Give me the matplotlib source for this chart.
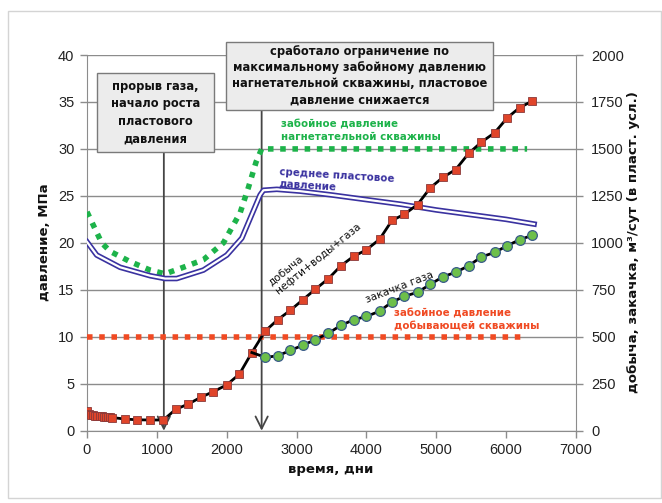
import matplotlib
matplotlib.use("Agg")
import matplotlib.pyplot as plt
from matplotlib.patches import Rectangle

# ---- data ----
# injection well bottom-hole pressure, MPa (left axis)
inj_bhp_days = [0, 210, 330, 616, 903, 1117, 1380, 1666, 1953, 2192, 2311, 2420, 2500, 6300]
inj_bhp_mpa = [23.3, 20.0, 19.1, 18.0, 17.1, 16.7, 17.4, 18.2, 20.0, 23.2, 25.9, 28.6, 30.0, 30.0]

# average reservoir pressure, MPa (left axis)
res_p_days = [0, 139, 473, 903, 1117, 1285, 1666, 2001, 2216, 2478, 2526, 2717, 3052,
              3500, 4000, 4500, 5000, 5500, 6000, 6400]
res_p_mpa = [20.1, 18.7, 17.4, 16.5, 16.2, 16.2, 17.1, 18.7, 20.5, 25.1, 25.6, 25.7, 25.5,
             25.1, 24.6, 24.1, 23.5, 23.0, 22.5, 22.0]

# production well bottom-hole pressure, MPa (left axis)
prod_bhp_days = [0, 6300]
prod_bhp_mpa = [10.0, 10.0]

# production oil+water+gas, m3/day (right axis)
prod_days = [0, 30, 60, 90, 120, 150, 180, 210, 240, 270, 300, 330, 360,
             545, 720, 903, 1093, 1271, 1451, 1629, 1810, 2001, 2181, 2360,
             2550, 2727, 2908, 3089, 3266, 3457, 3635, 3815, 3997, 4188, 4365,
             4542, 4732, 4914, 5096, 5277, 5463, 5645, 5835, 6017, 6193, 6375]
prod_rate = [103, 88, 85, 82, 80, 78, 77, 76, 75, 74, 73, 72, 70,
             62, 58, 57, 57, 114, 142, 178, 208, 244, 301, 416,
             530, 590, 640, 697, 752, 810, 878, 928, 962, 1019, 1119,
             1152, 1204, 1293, 1349, 1390, 1476, 1536, 1586, 1666, 1720, 1755]

# gas injection, m3/day (right axis)
gas_days = [2360, 2550, 2727, 2908, 3089, 3266, 3457, 3635, 3815, 3997, 4188, 4365,
            4542, 4732, 4914, 5096, 5277, 5463, 5645, 5835, 6017, 6193, 6375]
gas_rate = [416, 391, 398, 427, 455, 484, 519, 561, 590, 608, 636, 685,
            715, 737, 779, 820, 843, 878, 925, 949, 985, 1017, 1040]

event_days = [1100, 2500]
box1_text = "прорыв газа,\nначало роста\nпластового\nдавления"
box2_text = ("сработало ограничение по\nмаксимальному забойному давлению\n"
             "нагнетательной скважины, пластовое\nдавление снижается")

# ---- figure ----
W, H = 662, 503
fig = plt.figure(figsize=(W / 100, H / 100), dpi=100)
fig.patch.set_facecolor("white")
fig.patches.append(Rectangle((8 / W, 5 / H), 653 / W, 487 / H, transform=fig.transFigure,
                             fill=False, edgecolor="#d4d4d4", lw=1.0))

ax = fig.add_axes([87 / W, 1 - 430.7 / H, (576 - 87) / W, (430.7 - 55) / H])
ax2 = ax.twinx()

ax.set_xlim(0, 7000)
ax.set_ylim(0, 40)
ax2.set_ylim(0, 2000)
ax.set_xticks(range(0, 7001, 1000))
ax.set_yticks(range(0, 41, 5))
ax2.set_yticks(range(0, 2001, 250))

gridc = "#8c8c8c"
ax.grid(axis="y", color=gridc, lw=1.0)
ax.set_axisbelow(True)
for a in (ax, ax2):
    for s in a.spines.values():
        s.set_visible(False)
ax.spines["left"].set_visible(True)
ax.spines["left"].set_color(gridc)
ax.spines["bottom"].set_visible(True)
ax.spines["bottom"].set_color(gridc)
ax2.spines["right"].set_visible(True)
ax2.spines["right"].set_color(gridc)

for a in (ax, ax2):
    a.tick_params(axis="both", color=gridc, length=5, width=1, direction="out",
                  labelsize=10.5, labelcolor="#222222")
    for lab in a.get_xticklabels() + a.get_yticklabels():
        lab.set_fontfamily("Liberation Sans")
ax.tick_params(axis="y", pad=4)
ax2.tick_params(axis="y", pad=6)
ax.tick_params(axis="x", pad=4)

# left axis series
dotted = (0, (1.0, 1.2))
ax.plot(inj_bhp_days, inj_bhp_mpa, color="#1db34a", lw=4.0, linestyle=dotted,
        dash_capstyle="butt", zorder=3)
ax.plot(prod_bhp_days, prod_bhp_mpa, color="#f04a23", lw=4.0, linestyle=dotted,
        dash_capstyle="butt", zorder=3)
ax.plot(res_p_days, res_p_mpa, color="#3a32a0", lw=4.0, zorder=4, solid_joinstyle="round")
ax.plot(res_p_days, res_p_mpa, color="white", lw=1.6, zorder=4, solid_joinstyle="round")

# right axis series
ax2.plot(prod_days, prod_rate, color="black", lw=2, marker="s", markersize=6,
         markerfacecolor="#e0452a", markeredgecolor="#8a3a3a", markeredgewidth=0.6, zorder=5)
ax2.plot(gas_days, gas_rate, color="black", lw=2, zorder=5)
ax2.plot(gas_days[1:], gas_rate[1:], linestyle="none", marker="o", markersize=7,
         markerfacecolor="#6dbf4a", markeredgecolor="#3a5c8a", markeredgewidth=0.9, zorder=6)

# event arrows
arrowc = "#454545"
ax.annotate("", xy=(event_days[0], 0), xytext=(event_days[0], 29.7),
            arrowprops=dict(arrowstyle="->", color=arrowc, lw=1.3, mutation_scale=22,
                            shrinkA=0, shrinkB=0), zorder=2)
ax.annotate("", xy=(event_days[1], 0), xytext=(event_days[1], 34.2),
            arrowprops=dict(arrowstyle="->", color=arrowc, lw=1.3, mutation_scale=22,
                            shrinkA=0, shrinkB=0), zorder=2)

# event boxes (figure pixel placement)
def fig_box(x0, y0, x1, y1, text, lsp):
    fig.patches.append(Rectangle((x0 / W, 1 - y1 / H), (x1 - x0) / W, (y1 - y0) / H,
                                 transform=fig.transFigure, facecolor="#ececec",
                                 edgecolor="#7a7a7a", lw=1.0, zorder=10))
    fig.text((x0 + x1) / 2 / W, 1 - (y0 + y1) / 2 / H, text, ha="center", va="center",
             fontsize=8.3, fontweight="bold", family="DejaVu Sans", color="#111111",
             linespacing=lsp, zorder=11)

fig_box(97, 73, 214, 152, box1_text, 1.45)
fig_box(226, 42, 493, 110, box2_text, 1.3)

# series labels
ax.text(2770, 31.9, "забойное давление\nнагнетательной скважины", ha="left", va="center",
        fontsize=7.4, fontweight="bold", family="DejaVu Sans", color="#1db34a",
        linespacing=1.3, zorder=7)
ax.text(2745, 26.9, "среднее пластовое\nдавление", ha="left", va="center",
        fontsize=7.4, fontweight="bold", family="DejaVu Sans", color="#3a32a0",
        linespacing=1.2, rotation=-3.5, rotation_mode="anchor", zorder=7)
ax.text(2760, 14.3, "добыча\nнефти+воды+газа", ha="left", va="bottom",
        multialignment="left", fontsize=7.7, family="DejaVu Sans", color="#111111",
        linespacing=1.15, rotation=39, rotation_mode="anchor", zorder=7)
ax.text(4470, 15.3, "закачка газа", ha="center", va="center",
        fontsize=7.6, family="DejaVu Sans", color="#111111",
        rotation=21, rotation_mode="anchor", zorder=7)
ax.text(4400, 11.8, "забойное давление\nдобывающей скважины", ha="left", va="center",
        fontsize=7.4, fontweight="bold", family="DejaVu Sans", color="#f04a23",
        linespacing=1.3, zorder=7)

# axis titles
fig.text(44 / W, 1 - 242 / H, "давление, МПа", rotation=90, ha="center", va="center",
         fontsize=9.5, fontweight="bold", family="DejaVu Sans", color="#111111")
fig.text(633 / W, 1 - 242 / H, "добыча, закачка, м³/сут (в пласт. усл.)", rotation=90,
         ha="center", va="center", fontsize=9.5, fontweight="bold", family="DejaVu Sans",
         color="#111111")
fig.text(331 / W, 1 - 470 / H, "время, дни", ha="center", va="center",
         fontsize=9.5, fontweight="bold", family="DejaVu Sans", color="#111111")

fig.savefig("out.png", dpi=100, facecolor="white")
